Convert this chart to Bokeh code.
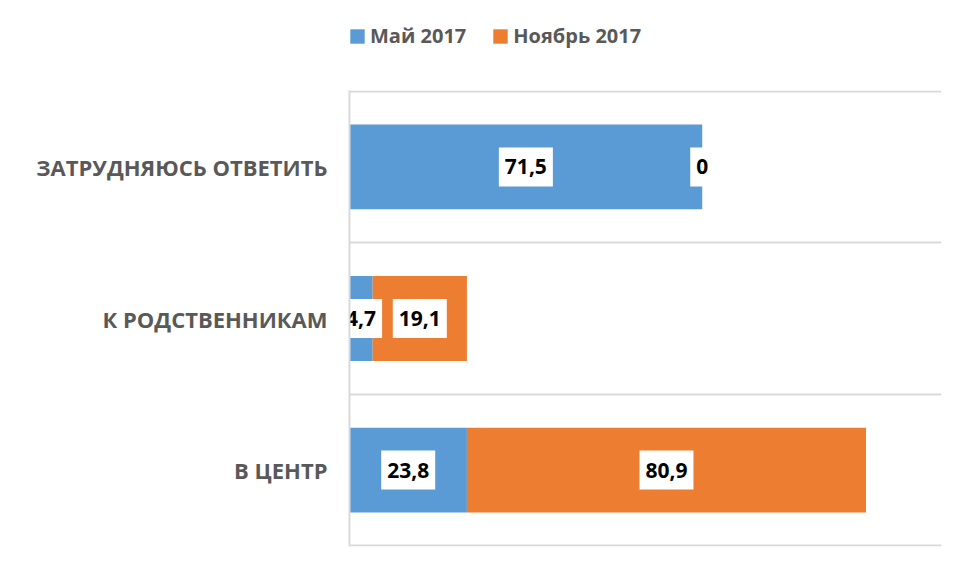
from bokeh.plotting import figure
from bokeh.layouts import column
from bokeh.models import Range1d, FixedTicker, ColumnDataSource, Legend, LegendItem
from bokeh.core.properties import value
from bokeh.embed import file_html
from bokeh.resources import INLINE

categories = ["В ЦЕНТР", "К РОДСТВЕННИКАМ", "ЗАТРУДНЯЮСЬ ОТВЕТИТЬ"]
may_2017 = [23.8, 4.7, 71.5]
nov_2017 = [80.9, 19.1, 0]
series_names = ["Май 2017", "Ноябрь 2017"]

BLUE = "#5B9BD5"
ORANGE = "#ED7D31"
GRID = "#D9D9D9"
TEXT_GRAY = "#595959"

ypos = list(range(len(categories)))
nov_right = [m + n for m, n in zip(may_2017, nov_2017)]

def fmt(v):
    return f"{v:g}".replace(".", ",")

src = ColumnDataSource(dict(
    y=ypos,
    may_left=[0] * len(ypos), may_right=may_2017,
    nov_left=may_2017, nov_right=nov_right,
    may_x=[m / 2 for m in may_2017],
    nov_x=[m + n / 2 for m, n in zip(may_2017, nov_2017)],
    may_lbl=[fmt(v) for v in may_2017],
    nov_lbl=[fmt(v) for v in nov_2017],
))

W = 949
eps = 0.004
p = figure(width=W, height=471, output_backend="svg", toolbar_location=None,
           x_range=Range1d(0, 120), y_range=Range1d(-0.5 - eps, len(categories) - 0.5 + eps),
           x_axis_location=None,
           min_border_left=349, min_border_right=8, min_border_top=0, min_border_bottom=15)
p.outline_line_color = None
p.background_fill_color = "white"
p.border_fill_color = "white"

p.hbar(y="y", left="may_left", right="may_right", height=0.56,
       fill_color=BLUE, line_color=None, source=src)
p.hbar(y="y", left="nov_left", right="nov_right", height=0.56,
       fill_color=ORANGE, line_color=None, source=src)

p.yaxis.ticker = FixedTicker(ticks=ypos)
p.yaxis.major_label_overrides = {i: c for i, c in zip(ypos, categories)}
p.yaxis.axis_line_color = GRID
p.yaxis.axis_line_width = 2
p.yaxis.major_tick_line_color = None
p.yaxis.minor_tick_line_color = None
p.yaxis.major_label_standoff = 16
p.yaxis.major_label_text_font = "Open Sans"
p.yaxis.major_label_text_font_style = "bold"
p.yaxis.major_label_text_font_size = "22px"
p.yaxis.major_label_text_color = TEXT_GRAY

p.xgrid.visible = False
p.ygrid.ticker = FixedTicker(ticks=[i - 0.5 for i in range(len(categories) + 1)])
p.ygrid.grid_line_color = GRID
p.ygrid.grid_line_width = 2

common = dict(text_font=value("Open Sans"), text_font_style="bold", text_font_size="21px",
              text_color="black", text_align="center", text_baseline="middle",
              background_fill_color="white",
              padding=dict(left=6, right=6, top=12, bottom=12), source=src)
p.text(x="may_x", y="y", text="may_lbl", **common)
p.text(x="nov_x", y="y", text="nov_lbl", **common)

# legend strip above the chart (its frame is aligned with the chart's frame)
lg = figure(width=W, height=90, output_backend="svg", toolbar_location=None,
            x_range=Range1d(0, 1), y_range=Range1d(0, 1),
            x_axis_location=None, y_axis_location=None,
            min_border_left=0, min_border_right=0, min_border_top=0, min_border_bottom=0)
lg.outline_line_color = None
lg.xgrid.visible = False
lg.ygrid.visible = False
lr1 = lg.hbar(y="y", left="may_left", right="may_right", height=0.5,
              fill_color=BLUE, line_color=None, source=src, visible=False)
lr2 = lg.hbar(y="y", left="nov_left", right="nov_right", height=0.5,
              fill_color=ORANGE, line_color=None, source=src, visible=False)
legend = Legend(items=[LegendItem(label=series_names[0], renderers=[lr1]),
                       LegendItem(label=series_names[1], renderers=[lr2])],
                orientation="horizontal", location=(-1, 41),
                padding=0, margin=0, spacing=25, label_standoff=4,
                glyph_width=18, glyph_height=18, label_height=20,
                border_line_color=None, background_fill_alpha=0,
                inactive_fill_alpha=0, click_policy="none",
                label_text_font="Open Sans", label_text_font_style="bold",
                label_text_font_size="20px", label_text_color=TEXT_GRAY)
lg.add_layout(legend, "center")

layout = column(lg, p, spacing=0)
open("out.html", "w").write(file_html(layout, INLINE))
